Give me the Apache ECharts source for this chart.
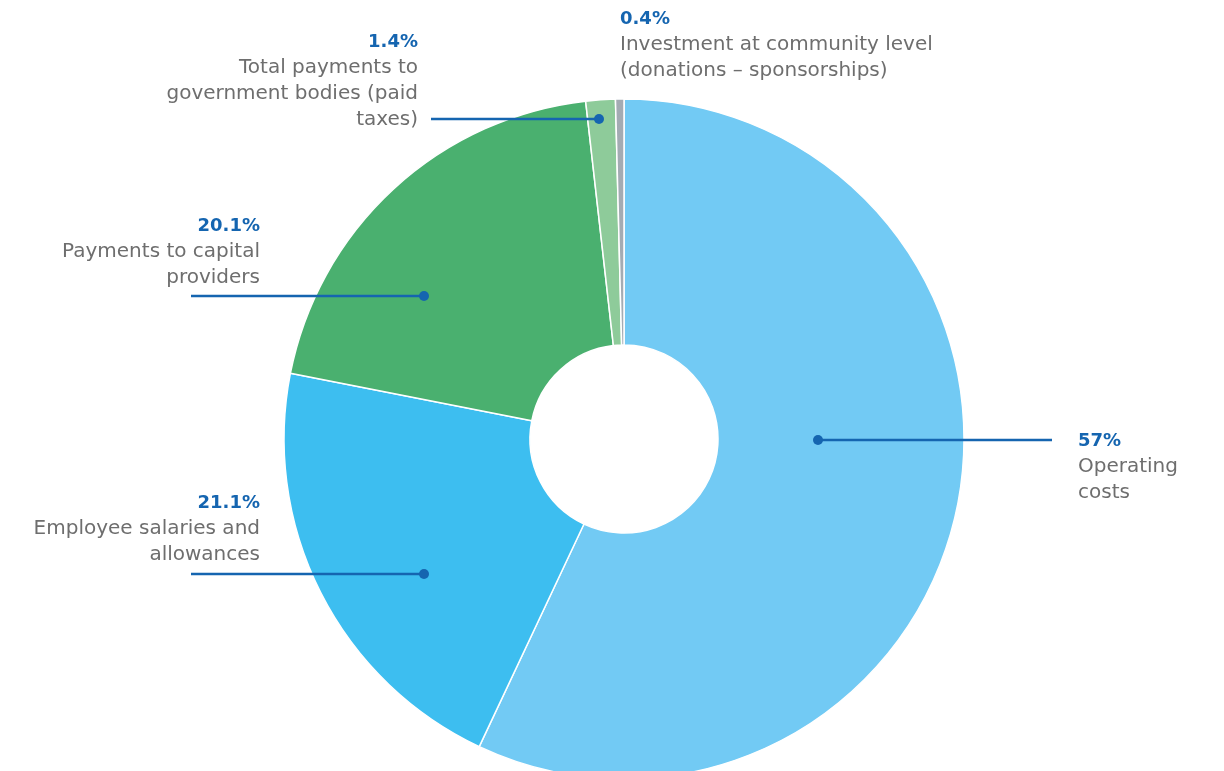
<!DOCTYPE html>
<html>
<head>
<meta charset="utf-8">
<script src="https://cdn.jsdelivr.net/npm/echarts@6/dist/echarts.min.js"></script>
<style>
  html, body { margin: 0; padding: 0; background: #ffffff; }
  #chart { width: 1224px; height: 771px; }
</style>
</head>
<body>
<div id="chart"></div>
<script>
// Distribution of economic value (share of total, %)
const categories = [
  'Operating\ncosts',
  'Employee salaries and\nallowances',
  'Payments to capital\nproviders',
  'Total payments to\ngovernment bodies (paid\ntaxes)',
  'Investment at community level\n(donations \u2013 sponsorships)'
];
const shares = [57, 21.1, 20.1, 1.4, 0.4];
const shareLabels = ['57%', '21.1%', '20.1%', '1.4%', '0.4%'];

const sliceColors = ['#72CAF4', '#3DBEF0', '#4AB06F', '#8ECB9A', '#A3ABB3'];
const accent = '#1565B0';

const CX = 624, CY = 439;

// Label placement per slice: anchor of the text block, its alignment,
// and the leader line (dot offset from the pie centre, line end x).
const labelPlacement = [
  { x: 1078, y: 428, align: 'left',  dot: [194, 1],    lineEnd: 1052 },
  { x: 260,  y: 490, align: 'right', dot: [-200, 135], lineEnd: 191 },
  { x: 260,  y: 213, align: 'right', dot: [-200, -143], lineEnd: 191 },
  { x: 418,  y: 29,  align: 'right', dot: [-25, -320], lineEnd: 431 },
  { x: 620,  y: 6,   align: 'left',  dot: null,        lineEnd: null }
];

const chart = echarts.init(document.getElementById('chart'), null, { renderer: 'canvas' });

const graphics = [];
labelPlacement.forEach(p => {
  if (!p.dot) return;
  const dx = CX + p.dot[0], dy = CY + p.dot[1];
  graphics.push({
    type: 'line', z: 100,
    shape: { x1: p.lineEnd, y1: dy, x2: dx, y2: dy },
    style: { stroke: accent, lineWidth: 2.5 }
  });
  graphics.push({
    type: 'circle', z: 101,
    shape: { cx: dx, cy: dy, r: 5 },
    style: { fill: accent }
  });
});

chart.setOption({
  animation: false,
  backgroundColor: '#ffffff',
  graphic: graphics,
  series: [{
    type: 'pie',
    center: [CX, CY],
    radius: [94, 340],
    startAngle: 90,
    clockwise: true,
    avoidLabelOverlap: false,
    itemStyle: { borderColor: '#ffffff', borderWidth: 1.5 },
    emphasis: { disabled: true },
    labelLine: { show: false },
    label: {
      show: true,
      position: 'outside',
      fontFamily: 'DejaVu Sans',
      formatter: p => '{pct|' + shareLabels[p.dataIndex] + '}\n{name|' + categories[p.dataIndex].split('\n').join('}\n{name|') + '}',
      rich: {
        pct: { fontFamily: 'DejaVu Sans', fontWeight: 'bold', fontSize: 18, color: accent, lineHeight: 26 },
        name: { fontFamily: 'DejaVu Sans', fontSize: 20, color: '#6E6E6E', lineHeight: 26 }
      }
    },
    labelLayout: params => {
      const p = labelPlacement[params.dataIndex];
      return { x: p.x, y: p.y, align: p.align, verticalAlign: 'top' };
    },
    data: categories.map((c, i) => ({
      name: c,
      value: shares[i],
      itemStyle: { color: sliceColors[i] }
    }))
  }]
});
</script>
</body>
</html>
